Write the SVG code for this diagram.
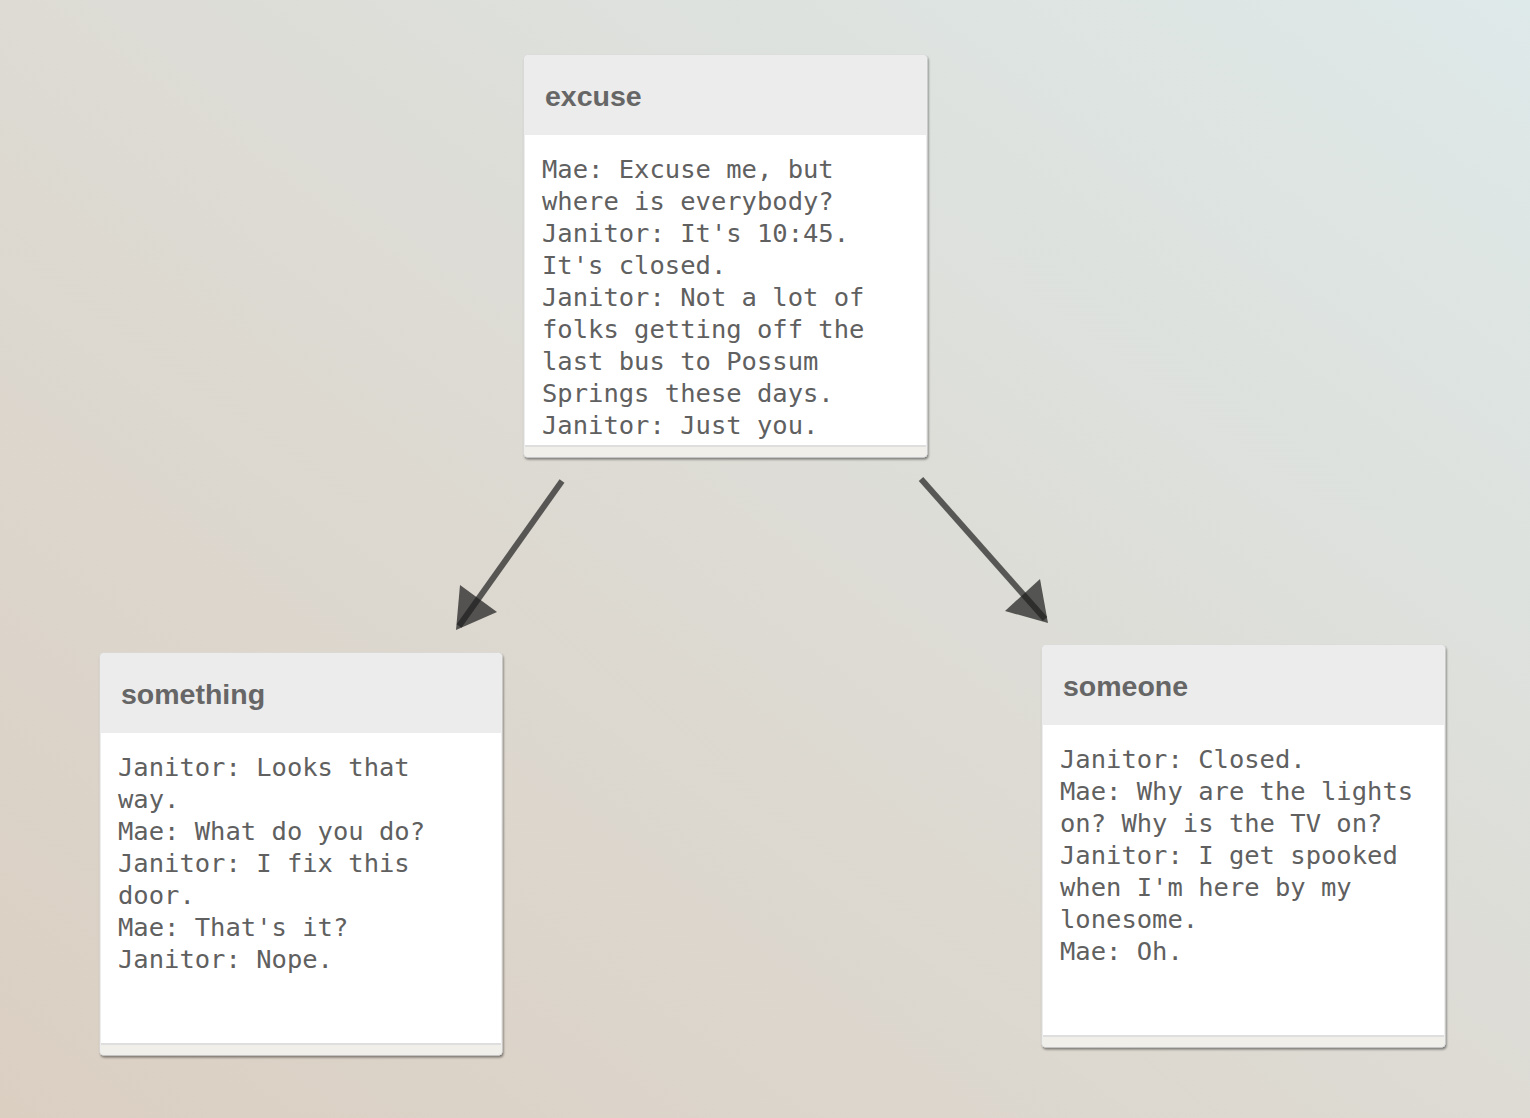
<svg xmlns="http://www.w3.org/2000/svg" width="1530" height="1118" viewBox="0 0 1530 1118">
<defs>
<linearGradient id="bg" x1="0" y1="1" x2="1" y2="0">
<stop offset="0" stop-color="#dbcfc2"/>
<stop offset="0.5" stop-color="#dddbd4"/>
<stop offset="1" stop-color="#dee9e9"/>
</linearGradient>
<filter id="sh" x="-5%" y="-5%" width="110%" height="110%">
<feDropShadow dx="1" dy="2" stdDeviation="1" flood-color="#000" flood-opacity="0.45"/>
</filter>
<style>
.box{fill:#fff;stroke:#dcdcdc;stroke-width:1}
.hdr{fill:#ececec}
.ftl{fill:#dedede}
.ft{fill:#f0efea}
.title{font-family:"Liberation Sans",Arial,sans-serif;font-weight:bold;font-size:28.5px;fill:#666}
.body{font-family:"DejaVu Sans Mono","Liberation Mono",monospace;font-size:25.5px;fill:#606060}
.ln{stroke:#1e1e1e;stroke-opacity:0.7;stroke-width:6;fill:none}
.hd{fill:#1e1e1e;fill-opacity:0.72}
</style>
</defs>
<rect x="0" y="0" width="1530" height="1118" fill="url(#bg)"/>

<g id="connectors">
<line class="ln" x1="562" y1="481" x2="459" y2="626"/>
<polygon class="hd" points="456,630 460,585 497,612"/>
<line class="ln" x1="921" y1="479" x2="1045" y2="619"/>
<polygon class="hd" points="1048,623 1040,579 1005,611"/>
</g>

<g id="excuse">
<rect class="box" x="524" y="55" width="403" height="402" rx="3" filter="url(#sh)"/>
<path class="hdr" d="M527,55.5 H924 a2.5,2.5 0 0 1 2.5,2.5 V135 H524.5 V58 a2.5,2.5 0 0 1 2.5,-2.5 Z"/>
<rect class="ftl" x="525" y="445" width="401" height="2"/>
<rect class="ft" x="525" y="447" width="401" height="9"/>
<text class="title" x="545" y="106">excuse</text>
<text class="body" x="542" y="178">Mae: Excuse me, but</text>
<text class="body" x="542" y="210">where is everybody?</text>
<text class="body" x="542" y="242">Janitor: It's 10:45.</text>
<text class="body" x="542" y="274">It's closed.</text>
<text class="body" x="542" y="306">Janitor: Not a lot of</text>
<text class="body" x="542" y="338">folks getting off the</text>
<text class="body" x="542" y="370">last bus to Possum</text>
<text class="body" x="542" y="402">Springs these days.</text>
<text class="body" x="542" y="434">Janitor: Just you.</text>
</g>

<g id="something">
<rect class="box" x="100" y="653" width="402" height="402" rx="3" filter="url(#sh)"/>
<path class="hdr" d="M103,653.5 H499 a2.5,2.5 0 0 1 2.5,2.5 V733 H100.5 V656 a2.5,2.5 0 0 1 2.5,-2.5 Z"/>
<rect class="ftl" x="101" y="1043" width="400" height="2"/>
<rect class="ft" x="101" y="1045" width="400" height="9"/>
<text class="title" x="121" y="704">something</text>
<text class="body" x="118" y="776">Janitor: Looks that</text>
<text class="body" x="118" y="808">way.</text>
<text class="body" x="118" y="840">Mae: What do you do?</text>
<text class="body" x="118" y="872">Janitor: I fix this</text>
<text class="body" x="118" y="904">door.</text>
<text class="body" x="118" y="936">Mae: That's it?</text>
<text class="body" x="118" y="968">Janitor: Nope.</text>
</g>

<g id="someone">
<rect class="box" x="1042" y="645" width="403" height="402" rx="3" filter="url(#sh)"/>
<path class="hdr" d="M1045,645.5 H1442 a2.5,2.5 0 0 1 2.5,2.5 V725 H1042.5 V648 a2.5,2.5 0 0 1 2.5,-2.5 Z"/>
<rect class="ftl" x="1043" y="1035" width="401" height="2"/>
<rect class="ft" x="1043" y="1037" width="401" height="9"/>
<text class="title" x="1063" y="696">someone</text>
<text class="body" x="1060" y="768">Janitor: Closed.</text>
<text class="body" x="1060" y="800">Mae: Why are the lights</text>
<text class="body" x="1060" y="832">on? Why is the TV on?</text>
<text class="body" x="1060" y="864">Janitor: I get spooked</text>
<text class="body" x="1060" y="896">when I'm here by my</text>
<text class="body" x="1060" y="928">lonesome.</text>
<text class="body" x="1060" y="960">Mae: Oh.</text>
</g>
</svg>
